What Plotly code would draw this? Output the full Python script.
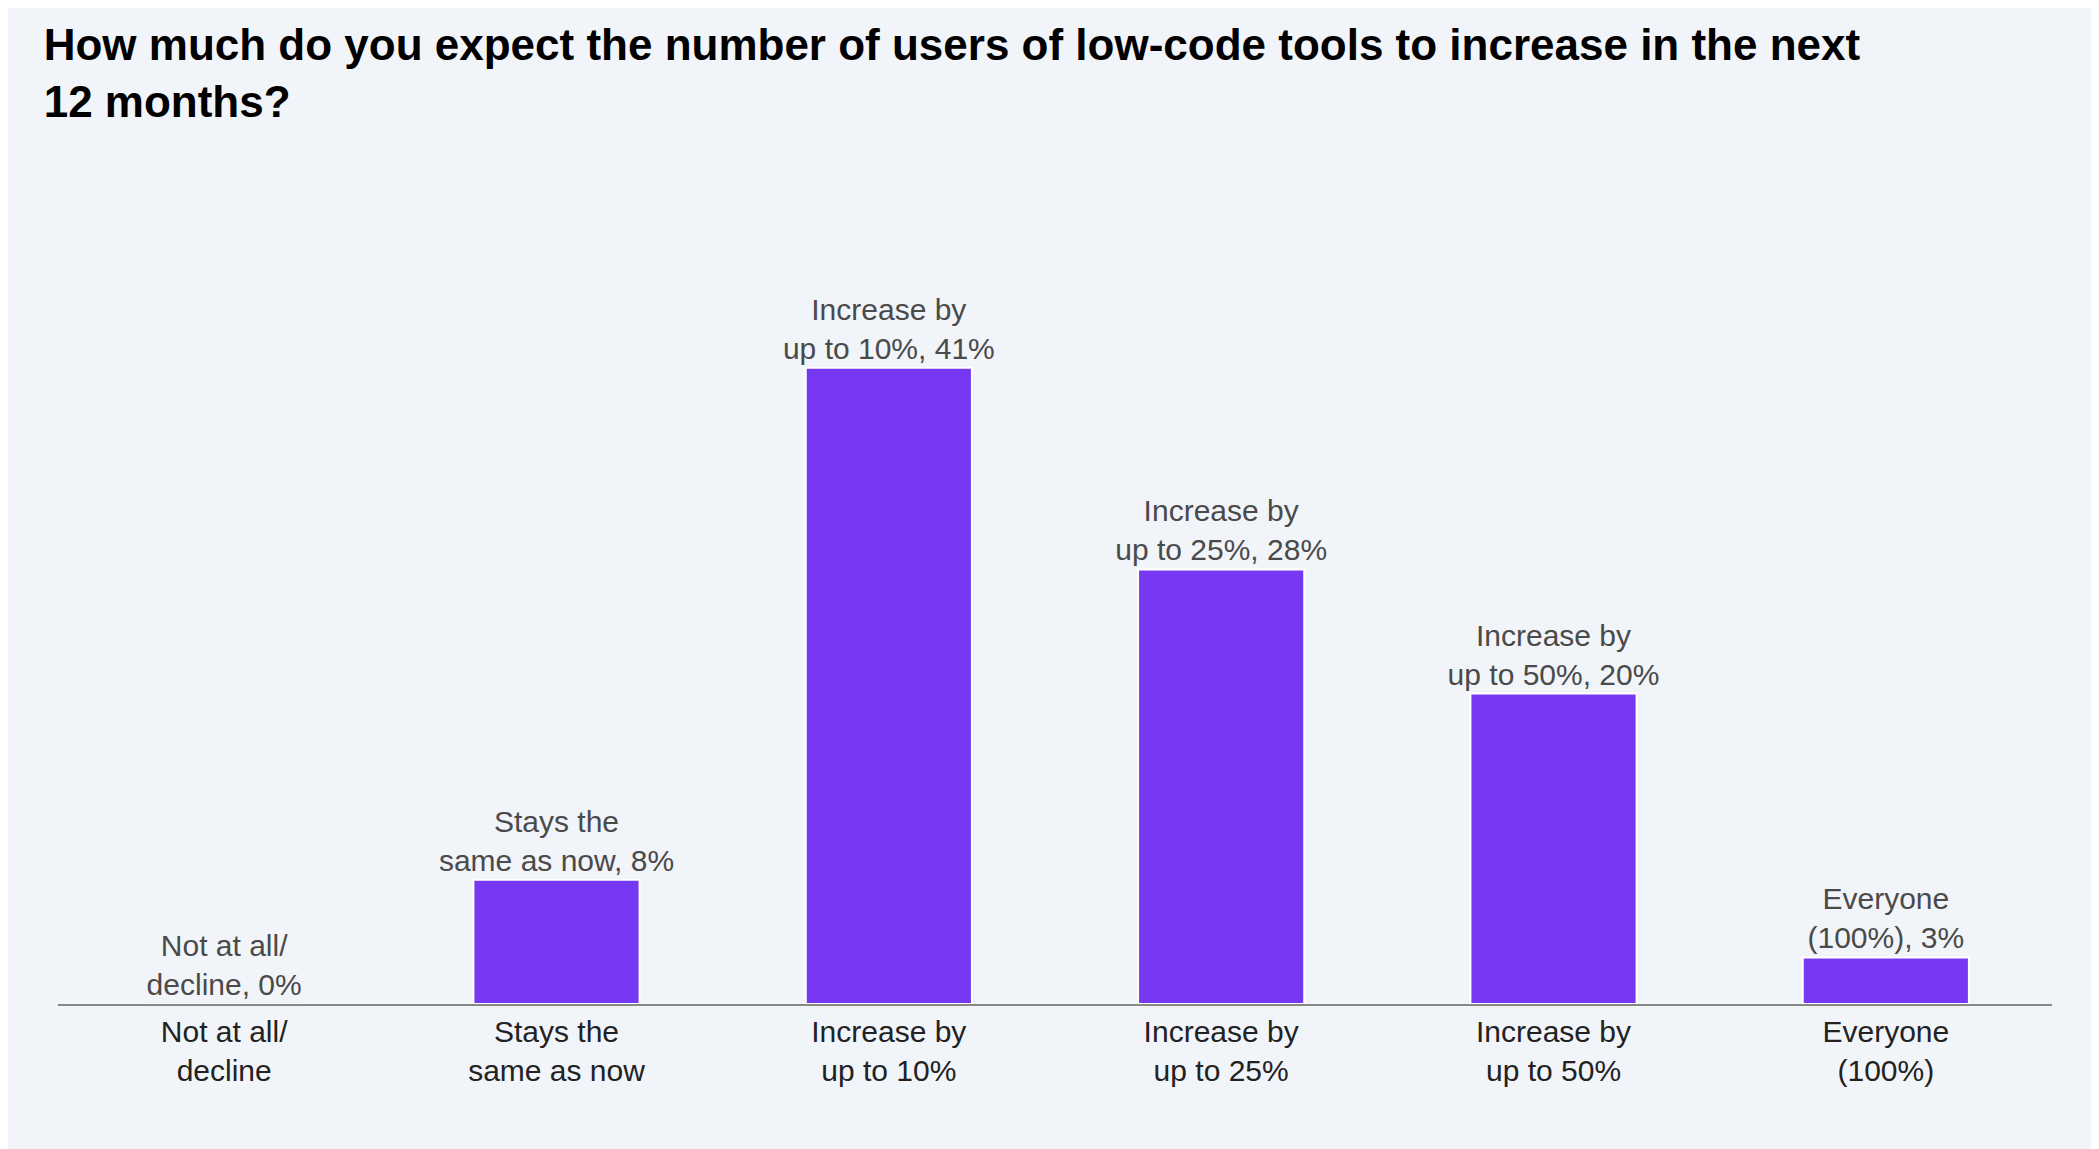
import plotly.graph_objects as go

categories = ["Not at all/<br>decline", "Stays the<br>same as now", "Increase by<br>up to 10%",
              "Increase by<br>up to 25%", "Increase by<br>up to 50%", "Everyone<br>(100%)"]
values = [0, 8, 41, 28, 20, 3]
bar_labels = ["Not at all/<br>decline, 0%", "Stays the<br>same as now, 8%", "Increase by<br>up to 10%, 41%",
              "Increase by<br>up to 25%, 28%", "Increase by<br>up to 50%, 20%", "Everyone<br>(100%), 3%"]

bg = "#f1f4f8"

fig = go.Figure(go.Bar(
    x=categories, y=values, text=bar_labels,
    textposition="outside", cliponaxis=False,
    textfont=dict(size=30, color="#4a4a4a"),
    marker=dict(color="#7638f2", line=dict(color="white", width=2)),
    width=0.5,
))

fig.update_layout(
    width=2099, height=1149,
    paper_bgcolor=bg, plot_bgcolor=bg,
    font=dict(family="Liberation Sans, Arial, sans-serif"),
    uniformtext=dict(minsize=30, mode="show"),
    title=dict(text="<b>How much do you expect the number of users of low-code tools to increase in the next<br>12 months?</b>",
               font=dict(size=44, color="black"), x=0.017, xanchor="left", y=0.955, yanchor="top"),
    margin=dict(l=50, r=55, t=220, b=153),
    showlegend=False,
)
fig.update_xaxes(showline=True, linecolor="#888", linewidth=1.5, ticks="",
                 tickfont=dict(size=30, color="#222"))
fig.update_yaxes(visible=False, range=[0, 50], showgrid=False)

fig.write_html("out.html")
